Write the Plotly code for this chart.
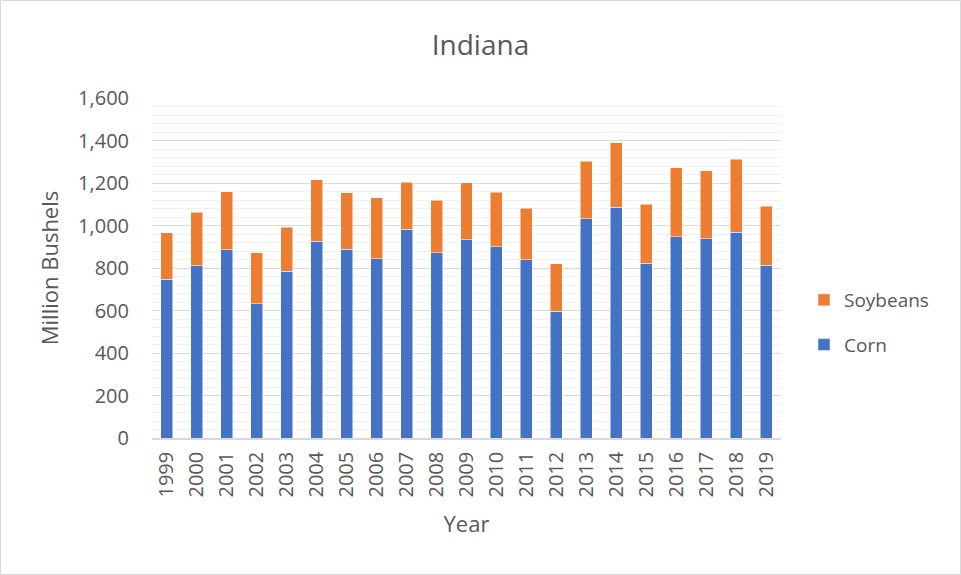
import plotly.graph_objects as go

years = [str(y) for y in range(1999, 2020)]
corn = [747, 810, 885, 631, 785, 927, 888, 844, 982, 872, 932,
        899, 839, 596, 1031, 1085, 823, 946, 937, 968, 814]
totals = [965, 1063, 1159, 872, 992, 1216, 1153, 1130, 1203, 1118, 1201,
          1157, 1082, 821, 1302, 1389, 1099, 1271, 1258, 1312, 1090]
soybeans = [t - c for t, c in zip(totals, corn)]

W, H = 961, 575
L, R, T, B = 152, 180, 98, 137
pw, ph = W - L - R, H - T - B

fig = go.Figure()
fig.add_trace(go.Bar(x=years, y=corn, name="Corn", marker_color="#4472C4",
                     marker_line=dict(color="white", width=0.5),
                     legendgroup="c", legendrank=2))
fig.add_trace(go.Bar(x=years, y=soybeans, name="Soybeans", marker_color="#ED7D31",
                     marker_line=dict(color="white", width=0.5),
                     legendgroup="s", legendrank=1))

font_family = "Open Sans, Liberation Sans, sans-serif"
gray = "#595959"

fig.update_layout(
    width=W, height=H,
    barmode="stack", bargap=0.6,
    margin=dict(l=L, r=R, t=T, b=B, autoexpand=False),
    paper_bgcolor="white", plot_bgcolor="white",
    font=dict(family=font_family, color=gray, size=18),
    title=dict(text="Indiana", x=0.5, xanchor="center", y=1 - 45 / H, yanchor="middle",
               font=dict(size=28, color=gray, family=font_family)),
    legend=dict(x=(804 - L) / pw, y=(H - B - 281) / ph, xanchor="left", yanchor="top",
                traceorder="grouped", tracegroupgap=17,
                font=dict(size=19, color=gray), bgcolor="rgba(0,0,0,0)"),
    xaxis=dict(title=dict(text="Year", font=dict(size=22, color=gray), standoff=20),
               tickangle=-90, tickfont=dict(size=20, color=gray), ticklabelstandoff=4,
               showline=True, linecolor="#d9d9d9", linewidth=1.5,
               ticks="", automargin=False),
    yaxis=dict(title=dict(text="Million Bushels", font=dict(size=22, color=gray), standoff=13),
               range=[0, 1600], dtick=200, tickformat=",", tickfont=dict(size=20, color=gray),
               ticklabelstandoff=22,
               showgrid=True, gridcolor="#d9d9d9", gridwidth=1.2,
               zeroline=False, ticks="", automargin=False,
               minor=dict(dtick=40, showgrid=True, gridcolor="#f0f0f0", gridwidth=1)),
    shapes=[dict(type="rect", xref="paper", yref="paper",
                 x0=(0.5 - L) / pw, x1=(W - 0.5 - L) / pw,
                 y0=-(B - 0.5) / ph, y1=(H - B - 0.5) / ph,
                 line=dict(color="#d9d9d9", width=1), fillcolor="rgba(0,0,0,0)", layer="below")],
)

fig.write_html("out.html", config={"displayModeBar": False},
               post_script="document.body.style.margin='0px';")
